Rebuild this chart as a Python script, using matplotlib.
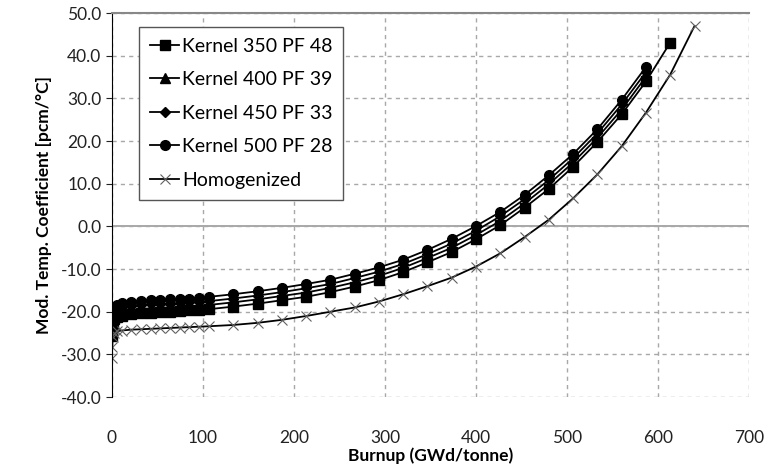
import numpy as np
import matplotlib.pyplot as plt

plt.rcParams["font.family"] = ["Lato", "DejaVu Sans"]

# ── Data ──────────────────────────────────────────────────────────────────────
burnup = [0, 0.5, 1, 2.7, 5.3, 10.7, 21.3, 32, 42.7, 53.3, 64, 74.7, 85.3, 96,
          106.7, 133.3, 160, 186.7, 213.3, 240, 266.7, 293.3, 320, 346.7,
          373.3, 400, 426.7, 453.3, 480, 506.7, 533.3, 560, 586.7, 613.3, 640]

k350 = [-25.8, -24.5, -23.0, -21.8, -21.2, -20.9, -20.6, -20.4, -20.2, -20.1,
        -20.0, -19.9, -19.7, -19.6, -19.4, -18.8, -18.1, -17.3, -16.5, -15.4,
        -14.1, -12.6, -10.7, -8.4, -6.0, -3.0, 0.3, 4.4, 8.8, 14.0, 19.8,
        26.3, 34.0, 43.1]
k400 = [-24.9, -23.5, -22.1, -20.8, -20.2, -19.9, -19.6, -19.4, -19.2, -19.1,
        -19.0, -18.9, -18.8, -18.6, -18.4, -17.8, -17.1, -16.3, -15.5, -14.4,
        -13.1, -11.6, -9.7, -7.4, -5.0, -2.0, 1.3, 5.4, 9.9, 15.0, 20.8,
        27.4, 35.1]
k450 = [-23.9, -22.5, -21.1, -19.9, -19.3, -18.9, -18.6, -18.4, -18.3, -18.2,
        -18.1, -18.0, -17.8, -17.7, -17.5, -16.9, -16.2, -15.4, -14.5, -13.5,
        -12.1, -10.6, -8.8, -6.5, -4.0, -1.0, 2.4, 6.4, 10.9, 16.0, 21.8,
        28.6, 36.2]
k500 = [-23.0, -21.5, -20.2, -19.0, -18.4, -18.0, -17.7, -17.5, -17.3, -17.2,
        -17.1, -17.0, -16.9, -16.7, -16.5, -15.9, -15.2, -14.4, -13.5, -12.5,
        -11.1, -9.6, -7.8, -5.5, -2.9, 0.1, 3.4, 7.4, 12.0, 17.0, 22.8,
        29.7, 37.4]
homog = [-30.8, -28.2, -26.0, -25.0, -24.6, -24.4, -24.2, -24.1, -24.0, -23.9,
         -23.8, -23.7, -23.6, -23.5, -23.4, -23.1, -22.6, -21.9, -21.0, -20.0,
         -19.0, -17.6, -15.9, -14.0, -12.0, -9.4, -6.3, -2.5, 1.6, 6.6, 12.2,
         18.8, 26.7, 35.6, 47.0]

labels = ["Kernel 350 PF 48", "Kernel 400 PF 39", "Kernel 450 PF 33",
          "Kernel 500 PF 28", "Homogenized"]
x_ticks = np.arange(0, 701, 100)
y_ticks = np.arange(-40, 51, 10)

# ── Plot ──────────────────────────────────────────────────────────────────────
fig = plt.figure(figsize=(7.66, 4.71), dpi=100)
ax = fig.add_axes([0.146, 0.157, 0.832, 0.815])

kw = dict(color="black", lw=1.3, ms=7)
ax.plot(burnup[:len(k350)], k350, marker="s", label=labels[0], **kw)
ax.plot(burnup[:len(k400)], k400, marker="^", label=labels[1], **kw)
ax.plot(burnup[:len(k450)], k450, marker="D", label=labels[2],
        color="black", lw=1.3, ms=5.5)
ax.plot(burnup[:len(k500)], k500, marker="o", label=labels[3], **kw)
ax.plot(burnup, homog, marker="x", label=labels[4], color="black", lw=1.3,
        ms=7, mec="#606060", mew=0.8)

ax.set_xlim(0, 700)
ax.set_ylim(-40, 50)
ax.set_xticks(x_ticks)
ax.set_yticks(y_ticks)
ax.set_yticklabels([f"{v:.1f}" for v in y_ticks])
ax.grid(True, color="#a8a8a8", ls=(0, (3, 3)), lw=1)
ax.axhline(0, color="#999999", lw=1.2, zorder=1.5)

for s in ["right", "bottom"]:
    ax.spines[s].set_visible(False)
ax.spines["top"].set_color("#888888")
ax.spines["top"].set_linewidth(1.5)
ax.spines["left"].set_color("black")

ax.tick_params(axis="x", length=0, pad=24, labelsize=12.5, colors="#222222")
ax.tick_params(axis="y", length=4, direction="out", labelsize=12.5,
               colors="#222222")

ax.set_xlabel("Burnup (GWd/tonne)", fontsize=12.5, fontweight="bold",
              labelpad=1)
ax.set_ylabel("Mod. Temp. Coefficient [pcm/\u00b0C]", fontsize=12.5,
              fontweight="bold", labelpad=6)

leg = ax.legend(loc="upper left", bbox_to_anchor=(0.043, 0.964),
                borderaxespad=0, fontsize=14, handlelength=1.5,
                handletextpad=0.15, labelspacing=0.85, fancybox=False,
                edgecolor="#555555", framealpha=1, borderpad=0.55)
leg.get_frame().set_linewidth(1.0)

fig.savefig("out.png", dpi=100)
